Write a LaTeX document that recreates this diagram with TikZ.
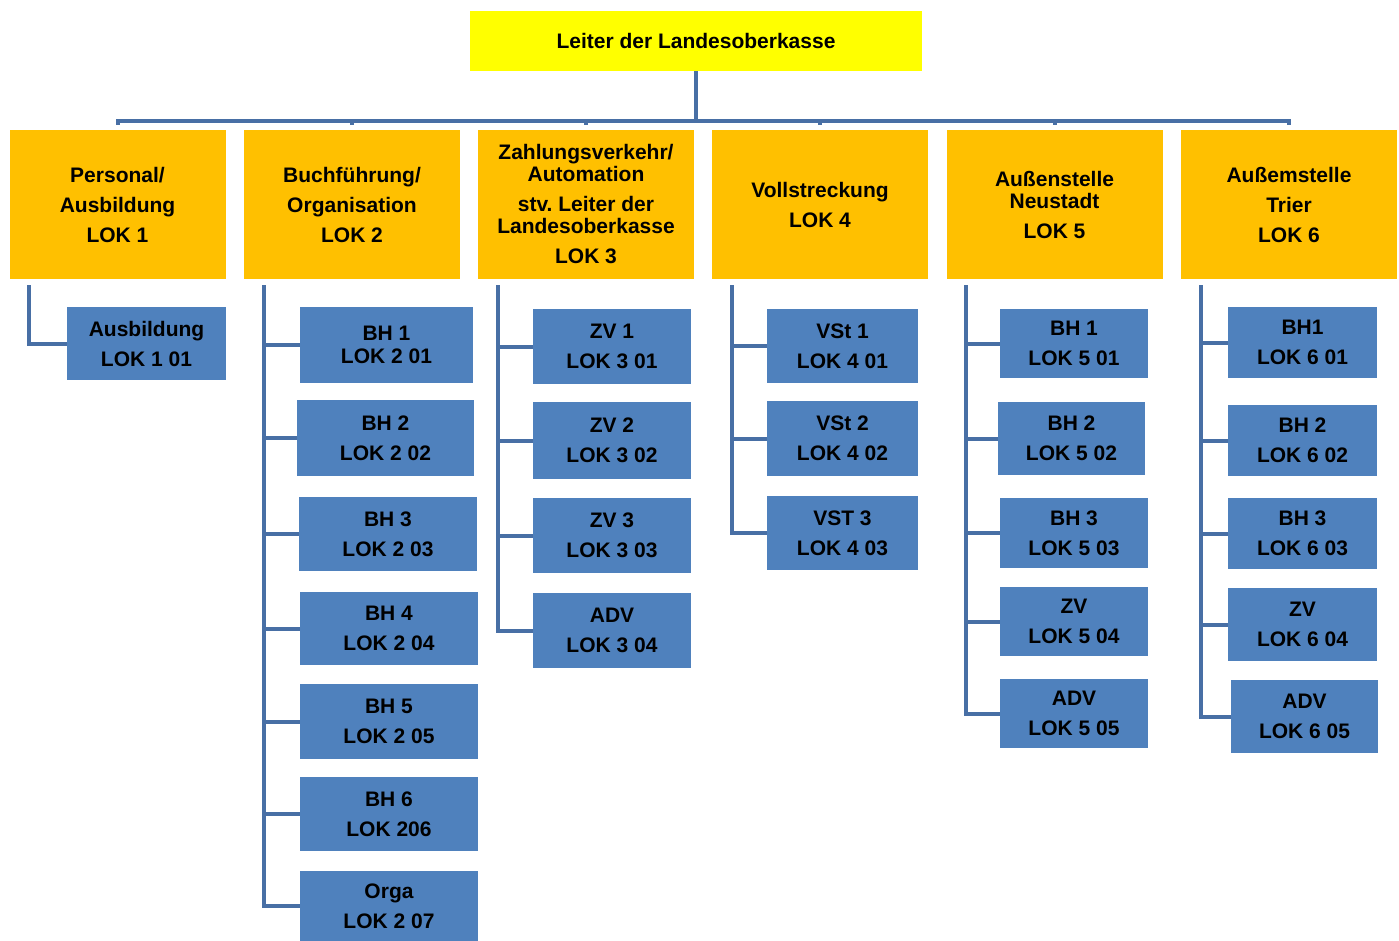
\documentclass[tikz,border=0pt]{standalone}
\usepackage{fontspec}
\setmainfont{Liberation Sans}
\usepackage{tikz}
\usetikzlibrary{calc}

\definecolor{leitgelb}{RGB}{255,255,0}
\definecolor{lokorange}{RGB}{255,192,0}
\definecolor{lokblau}{RGB}{79,129,189}
\definecolor{linienblau}{RGB}{72,111,165}

\begin{document}
\begin{tikzpicture}[x=1pt, y=-1pt,
    txt/.style={align=center, inner sep=0pt, font=\bfseries\fontsize{21}{30}\selectfont},
    leiter/.style={txt, fill=leitgelb, minimum width=452pt, minimum height=60pt},
    abt/.style={txt, fill=lokorange, minimum width=216pt, minimum height=149pt},
    sg/.style={txt, fill=lokblau},
    conn/.style={draw=linienblau, line width=4pt}]
    %% Background
    \useasboundingbox (0,0) rectangle (1399,941);

    %% Leitung
    \node[leiter] (top) at (696,41) {Leiter der Landesoberkasse};

    %% Abteilungen
    \node[abt] (o1) at (117.5,204.5) {Personal/\\Ausbildung\\LOK 1};
    \node[abt] (o2) at (352,204.5) {Buchführung/\\Organisation\\LOK 2};
    \node[abt] (o3) at (586,204.5) {Zahlungsverkehr/\\[-8pt]Automation\\stv.\ Leiter der\\[-8pt]Landesoberkasse\\LOK 3};
    \node[abt] (o4) at (820,204.5) {Vollstreckung\\LOK 4};
    \node[abt] (o5) at (1054.5,204.5) {Außenstelle\\[-8pt]Neustadt\\LOK 5};
    \node[abt] (o6) at (1289,204.5) {Außemstelle\\Trier\\LOK 6};

    %% Sachgebiete
    \node[sg, minimum width=159pt, minimum height=73pt] (b11) at (146.5,343.5) {Ausbildung\\LOK 1 01};

    \node[sg, minimum width=173pt, minimum height=76pt] (b21) at (386.5,345) {BH 1\\[-7pt]LOK 2 01};
    \node[sg, minimum width=177pt, minimum height=76pt] (b22) at (385.5,438) {BH 2\\LOK 2 02};
    \node[sg, minimum width=178pt, minimum height=74pt] (b23) at (388,534) {BH 3\\LOK 2 03};
    \node[sg, minimum width=178pt, minimum height=73pt] (b24) at (389,628.5) {BH 4\\LOK 2 04};
    \node[sg, minimum width=178pt, minimum height=75pt] (b25) at (389,721.5) {BH 5\\LOK 2 05};
    \node[sg, minimum width=178pt, minimum height=74pt] (b26) at (389,814) {BH 6\\LOK 206};
    \node[sg, minimum width=178pt, minimum height=70pt] (b27) at (389,906) {Orga\\LOK 2 07};

    \node[sg, minimum width=158pt, minimum height=75pt] (b31) at (612,346.5) {ZV 1\\LOK 3 01};
    \node[sg, minimum width=158pt, minimum height=77pt] (b32) at (612,440.5) {ZV 2\\LOK 3 02};
    \node[sg, minimum width=158pt, minimum height=75pt] (b33) at (612,535.5) {ZV 3\\LOK 3 03};
    \node[sg, minimum width=158pt, minimum height=75pt] (b34) at (612,630.5) {ADV\\LOK 3 04};

    \node[sg, minimum width=151pt, minimum height=74pt] (b41) at (842.5,346) {VSt 1\\LOK 4 01};
    \node[sg, minimum width=151pt, minimum height=75pt] (b42) at (842.5,438.5) {VSt 2\\LOK 4 02};
    \node[sg, minimum width=151pt, minimum height=74pt] (b43) at (842.5,533) {VST 3\\LOK 4 03};

    \node[sg, minimum width=148pt, minimum height=69pt] (b51) at (1074,343.5) {BH 1\\LOK 5 01};
    \node[sg, minimum width=147pt, minimum height=73pt] (b52) at (1071.5,438.5) {BH 2\\LOK 5 02};
    \node[sg, minimum width=148pt, minimum height=70pt] (b53) at (1074,533) {BH 3\\LOK 5 03};
    \node[sg, minimum width=148pt, minimum height=69pt] (b54) at (1074,621.5) {ZV\\LOK 5 04};
    \node[sg, minimum width=148pt, minimum height=69pt] (b55) at (1074,713.5) {ADV\\LOK 5 05};

    \node[sg, minimum width=149pt, minimum height=71pt] (b61) at (1302.5,342.5) {BH1\\LOK 6 01};
    \node[sg, minimum width=149pt, minimum height=71pt] (b62) at (1302.5,440.5) {BH 2\\LOK 6 02};
    \node[sg, minimum width=149pt, minimum height=71pt] (b63) at (1302.5,533.5) {BH 3\\LOK 6 03};
    \node[sg, minimum width=149pt, minimum height=73pt] (b64) at (1302.5,624.5) {ZV\\LOK 6 04};
    \node[sg, minimum width=147pt, minimum height=73pt] (b65) at (1304.5,716.5) {ADV\\LOK 6 05};

    %% Verbindungen oben
    \coordinate (bar) at ($(top.south)+(0,50)$);
    \draw[conn] (top.south) -- (bar);
    \draw[conn] ([yshift=5pt]o1.north) -- (o1.north |- bar) -- (o6.north |- bar) -- ([yshift=5pt]o6.north);
    \foreach \i in {2,...,5}
        \draw[conn] (o\i.north |- bar) -- ([yshift=5pt]o\i.north);

    %% Verbindungen je Abteilung
    \foreach \i/\last in {1/1, 2/7, 3/4, 4/3, 5/5, 6/5} {
        \coordinate (c\i) at ([shift={(20,6)}]o\i.south west);
        \draw[conn] (c\i) |- (b\i\last.west);
        \foreach \k in {1,...,\last}
            \draw[conn] (c\i |- b\i\k.west) -- (b\i\k.west);
    }
\end{tikzpicture}
\end{document}
